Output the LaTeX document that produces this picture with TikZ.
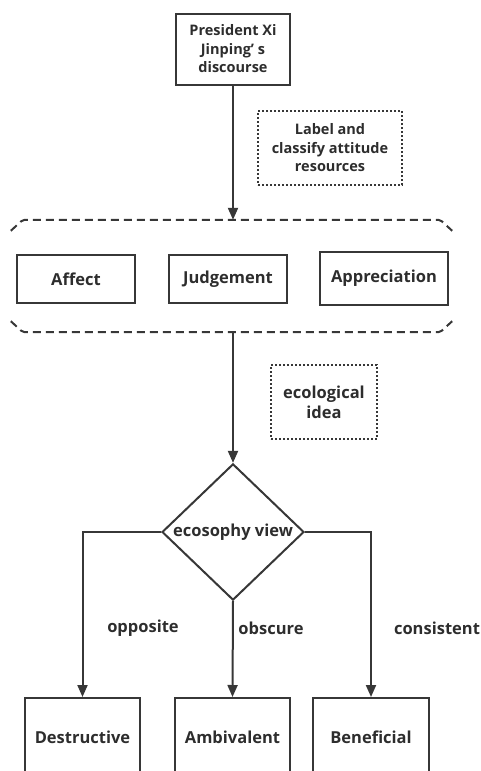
\documentclass[tikz,border=0pt]{standalone}
\usepackage{fontspec}
\setmainfont{Open Sans}
\usetikzlibrary{shapes.geometric, arrows.meta, positioning, calc}
\definecolor{linegray}{RGB}{55, 55, 55}
\definecolor{textgray}{RGB}{45, 45, 45}

\begin{document}
\begin{tikzpicture}[x=1pt, y=-1pt,
    box/.style={draw=linegray, line width=2pt, align=center, font=\fontsize{16.5}{20}\selectfont\bfseries, text=textgray, inner sep=0pt},
    smallbox/.style={box, font=\fontsize{14.5}{18.5}\selectfont\bfseries},
    notebox/.style={box, dash pattern=on 2pt off 2pt},
    flow/.style={draw=linegray, line width=2pt, -{Triangle[length=12pt, width=10pt]}},
    lbl/.style={font=\fontsize{16.5}{20}\selectfont\bfseries, text=textgray}]
                \useasboundingbox (0,0) rectangle (481,771);
                \clip (0,0) rectangle (481,771);
                % Source
                \node[smallbox, minimum width=114pt, minimum height=71pt] (xi) at (233,49) {President Xi\\Jinping’ s\\discourse};
                \node[notebox, smallbox, dash pattern=on 2pt off 2pt, minimum width=144pt, minimum height=74pt] (lab) at (330,148) {Label and\\classify attitude\\resources};
                
                % Attitude group
                \node[minimum width=441pt, minimum height=112pt, inner sep=0pt] (grp) at (231.5,276) {};
                \draw[linegray, line width=2pt, dash pattern=on 8pt off 5pt, rounded corners=2pt]
                    ($(grp.north west)+(0,11)$) -- ($(grp.north west)+(12,0)$) -- ($(grp.north east)+(-12,0)$) -- ($(grp.north east)+(0,11)$);
                \draw[linegray, line width=2pt, dash pattern=on 8pt off 5pt, rounded corners=2pt]
                    ($(grp.south west)+(0,-11)$) -- ($(grp.south west)+(12,0)$) -- ($(grp.south east)+(-12,0)$) -- ($(grp.south east)+(0,-11)$);
                \node[box, minimum width=118pt, minimum height=48pt] (aff) at (76,279) {Affect};
                \node[box, minimum width=118pt, minimum height=48pt] (jud) at (228,279) {Judgement};
                \node[box, minimum width=128pt, minimum height=53pt] (app) at (384,278.5) {Appreciation};
                
                % Ecosophy
                \node[notebox, minimum width=106pt, minimum height=74pt] (eco) at (324,402) {ecological\\idea};
                \node[box, diamond, minimum width=142pt, minimum height=135pt] (view) at (233,532) {ecosophy view};
                
                % Outcomes
                \node[box, minimum width=115pt, minimum height=78pt] (des) at (82.5,737) {Destructive};
                \node[box, minimum width=115pt, minimum height=78pt] (amb) at (232.5,737) {Ambivalent};
                \node[box, minimum width=116pt, minimum height=78pt] (ben) at (371,737) {Beneficial};
                
                % Arrows
                \draw[flow] (xi.south) -- (grp.north -| xi.south);
                \draw[flow] (grp.south -| view.north) -- (view.north);
                \draw[flow] (view.west) -| (des.north);
                \draw[flow] (view.south) -- (amb.north);
                \draw[flow] (view.east) -| (ben.north);
                
                % Labels
                \node[lbl] (opp) at (143,628) {opposite};
                \node[lbl] (obs) at (271,628) {obscure};
                \node[lbl] (con) at (437,628) {consistent};
            \end{tikzpicture}
\end{document}
